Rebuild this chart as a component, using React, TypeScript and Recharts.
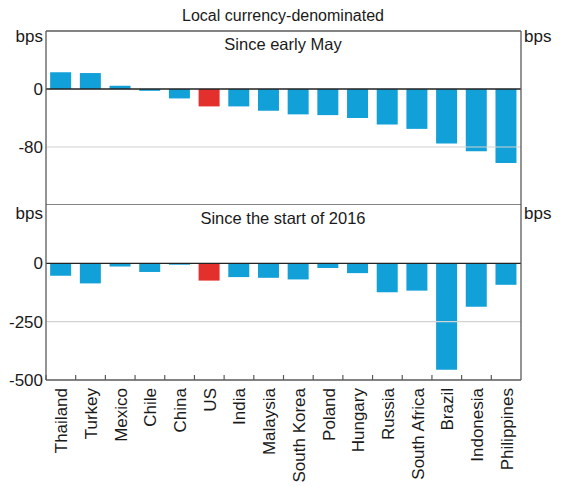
import React from "react";
import { BarChart, Bar, XAxis, YAxis, ReferenceLine, Cell } from "recharts";

// Change in local currency-denominated bond yields, bps
const countries = [
  "Thailand", "Turkey", "Mexico", "Chile", "China", "US", "India", "Malaysia",
  "South Korea", "Poland", "Hungary", "Russia", "South Africa", "Brazil",
  "Indonesia", "Philippines",
];
const sinceMay = [23, 22, 4.5, -2.5, -13, -24, -24, -30, -35, -36, -40, -49, -55, -75, -86, -102];
const since2016 = [-53, -86, -14, -37, -6, -74, -59, -62, -69, -20, -42, -124, -117, -456, -186, -92];

const topTicks = [-80, 0];
const bottomTicks = [-500, -250, 0];

const BLUE = "#12a0d8";
const RED = "#e3302d";
const FRAME = "#5a5a5a";
const FONT = "'Liberation Sans', Arial, sans-serif";

const topData = countries.map((name, i) => ({ name, value: sinceMay[i] }));
const bottomData = countries.map((name, i) => ({ name, value: since2016[i] }));

const tickStyle = { fontSize: 17, fill: "#1a1a1a", fontFamily: FONT };

const CountryTick = (props: any) => {
  const { x, y, payload } = props;
  const off = payload && payload.offset ? payload.offset : 14.85;
  return (
    <g>
      <line x1={x - off} x2={x - off} y1={y} y2={y - 5} stroke={FRAME} strokeWidth={1.2} />
      <text
        x={0}
        y={0}
        transform={`translate(${x + 1},${y + 8}) rotate(-90)`}
        textAnchor="end"
        dominantBaseline="central"
        fontSize={17}
        fontFamily={FONT}
        fill="#1a1a1a"
      >
        {payload.value}
      </text>
    </g>
  );
};

const axisProps = {
  tickLine: false,
  tickSize: 0,
  tickMargin: 3,
  tick: tickStyle,
  axisLine: { stroke: FRAME, strokeWidth: 1.3 },
  interval: 0 as const,
};

export default function App() {
  return (
    <div
      style={{
        position: "absolute",
        left: 0,
        top: 0,
        width: 571,
        height: 487,
        background: "#fff",
        fontFamily: FONT,
      }}
    >
      <div style={{ position: "absolute", left: 0, top: 0 }}>
        <BarChart
          width={571}
          height={205}
          data={topData}
          margin={{ top: 31, right: 0, bottom: 0, left: 0 }}
          barCategoryGap="14%"
        >
          <XAxis dataKey="name" hide />
          <YAxis yAxisId="l" orientation="left" width={46} domain={[-160, 80]} ticks={topTicks} {...axisProps} />
          <YAxis yAxisId="r" orientation="right" width={50} domain={[-160, 80]} ticks={topTicks} {...axisProps} />
          <ReferenceLine yAxisId="l" y={-80} stroke="#d2d2d2" strokeWidth={1.2} />
          <ReferenceLine yAxisId="l" y={0} stroke="#222" strokeWidth={1.3} />
          <Bar yAxisId="l" dataKey="value" isAnimationActive={false}>
            {topData.map((d, i) => (
              <Cell key={`t-${i}`} fill={d.name === "US" ? RED : BLUE} />
            ))}
          </Bar>
          <ReferenceLine yAxisId="l" y={80} stroke={FRAME} strokeWidth={1.3} />
          <ReferenceLine yAxisId="l" y={-160} stroke={FRAME} strokeWidth={1.5} />
        </BarChart>
      </div>
      <div style={{ position: "absolute", left: 0, top: 205 }}>
        <BarChart
          width={571}
          height={282}
          data={bottomData}
          margin={{ top: 0, right: 0, bottom: 0, left: 0 }}
          barCategoryGap="14%"
        >
          <XAxis
            dataKey="name"
            height={107}
            interval={0}
            tickLine={false}
            tickSize={0}
            tickMargin={0}
            axisLine={{ stroke: FRAME, strokeWidth: 1.3 }}
            tick={<CountryTick />}
          />
          <YAxis yAxisId="l" orientation="left" width={46} domain={[-500, 250]} ticks={bottomTicks} {...axisProps} />
          <YAxis yAxisId="r" orientation="right" width={50} domain={[-500, 250]} ticks={bottomTicks} {...axisProps} />
          <ReferenceLine yAxisId="l" y={-250} stroke="#d2d2d2" strokeWidth={1.2} />
          <ReferenceLine yAxisId="l" y={0} stroke="#222" strokeWidth={1.3} />
          <Bar yAxisId="l" dataKey="value" isAnimationActive={false}>
            {bottomData.map((d, i) => (
              <Cell key={`b-${i}`} fill={d.name === "US" ? RED : BLUE} />
            ))}
          </Bar>
        </BarChart>
      </div>
      <svg
        width={571}
        height={487}
        style={{ position: "absolute", left: 0, top: 0, pointerEvents: "none" }}
      >
        <g fontFamily={FONT} fill="#1a1a1a">
          <text x={283} y={21} fontSize={16} textAnchor="middle">Local currency-denominated</text>
          <text x={283} y={50} fontSize={16.5} textAnchor="middle">Since early May</text>
          <text x={283} y={224} fontSize={16.5} textAnchor="middle">Since the start of 2016</text>
          <text x={43} y={42} fontSize={17} textAnchor="end">bps</text>
          <text x={524} y={42} fontSize={17}>bps</text>
          <text x={43} y={219} fontSize={17} textAnchor="end">bps</text>
          <text x={524} y={219} fontSize={17}>bps</text>
        </g>
      </svg>
    </div>
  );
}
